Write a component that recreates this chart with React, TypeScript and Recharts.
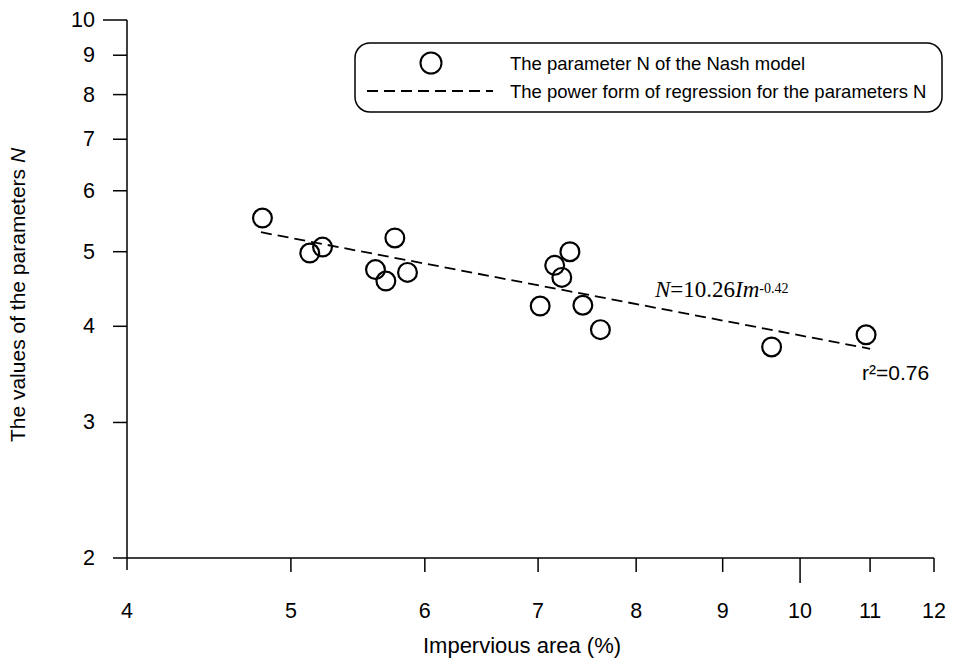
import { ComposedChart, Scatter, Line, XAxis, YAxis, Legend } from 'recharts';

// impervious area (%) and Nash parameter N
const imperviousArea = [4.81, 5.13, 5.22, 5.61, 5.69, 5.76, 5.86, 7.02, 7.16, 7.23, 7.31, 7.44, 7.62, 9.62, 10.94];
const nashN = [5.53, 4.98, 5.07, 4.74, 4.58, 5.21, 4.7, 4.25, 4.8, 4.63, 5.0, 4.26, 3.96, 3.76, 3.9];

// end points of the fitted power line N = 10.26 Im^-0.42
const fitX = [4.8, 11];
const fitN = [5.3, 3.74];

const xTicks = [4, 5, 6, 7, 8, 9, 10, 11, 12];
const yTicks = [2, 3, 4, 5, 6, 7, 8, 9, 10];

const points = imperviousArea.map((x, i) => ({ x, y: nashN[i] }));
const fitLine = fitX.map((x, i) => ({ x, y: fitN[i] }));

const SANS = '"Liberation Sans", Arial, sans-serif';
const SERIF = '"Liberation Serif", "Times New Roman", serif';

const XTick = (props: any) => {
  const { x, y, payload } = props;
  const len = payload.value === 10 ? 25 : payload.value === 4 ? 12 : 14;
  return (
    <g>
      <line x1={x} y1={y} x2={x} y2={y + len} stroke="#000" strokeWidth={1.5} />
      <text x={x} y={y + 60} textAnchor="middle" fontFamily={SANS} fontSize={21.5} fill="#000">
        {payload.value}
      </text>
    </g>
  );
};

const YTick = (props: any) => {
  const { x, y, payload } = props;
  const len = payload.value === 10 ? 24 : 14;
  return (
    <g>
      <line x1={x - len} y1={y} x2={x} y2={y} stroke="#000" strokeWidth={1.5} />
      <text x={x - 32} y={y} textAnchor="end" dominantBaseline="central" fontFamily={SANS} fontSize={21.5} fill="#000">
        {payload.value}
      </text>
    </g>
  );
};

const Ring = (props: any) => {
  const { cx, cy } = props;
  return <circle cx={cx} cy={cy} r={9.4} fill="none" stroke="#000" strokeWidth={2.2} />;
};

const LegendBox = () => (
  <svg width={590} height={72} style={{ display: 'block' }}>
    <rect x={1} y={1} width={587} height={69} rx={15} ry={15} fill="#fff" stroke="#000" strokeWidth={1.5} />
    <circle cx={77} cy={21} r={10.5} fill="none" stroke="#000" strokeWidth={2} />
    <line x1={13} y1={49} x2={139} y2={49} stroke="#000" strokeWidth={1.8} strokeDasharray="11 6" />
    <text x={156} y={21} dominantBaseline="central" fontFamily={SANS} fontSize={18.5} fill="#000">
      The parameter N of the Nash model
    </text>
    <text x={156} y={49} dominantBaseline="central" fontFamily={SANS} fontSize={18.5} fill="#000">
      The power form of regression for the parameters N
    </text>
  </svg>
);

export default function App() {
  return (
    <div style={{ position: 'relative', width: 953, height: 663, background: '#fff' }}>
      <style>{'body{margin:0}'}</style>
      <ComposedChart width={953} height={663} margin={{ top: 20, right: 19, bottom: 0, left: 0 }}>
        <XAxis
          dataKey="x"
          type="number"
          scale="log"
          domain={[4, 12]}
          ticks={xTicks}
          interval={0}
          height={105}
          tickSize={0}
          tickMargin={0}
          tickLine={false}
          tick={<XTick />}
          axisLine={{ stroke: '#000', strokeWidth: 1.5 }}
          allowDataOverflow
        />
        <YAxis
          dataKey="y"
          type="number"
          scale="log"
          domain={[2, 10]}
          ticks={yTicks}
          interval={0}
          width={127}
          tickSize={0}
          tickMargin={0}
          tickLine={false}
          tick={<YTick />}
          axisLine={{ stroke: '#000', strokeWidth: 1.5 }}
          allowDataOverflow
        />
        <Legend
          layout="horizontal"
          align="center"
          verticalAlign="middle"
          wrapperStyle={{ top: 42, left: 354, width: 590 }}
          content={() => <LegendBox />}
        />
        <Line
          data={fitLine}
          dataKey="y"
          type="linear"
          stroke="#000"
          strokeWidth={1.8}
          strokeDasharray="11 6"
          dot={false}
          activeDot={false}
          isAnimationActive={false}
          name="The power form of regression for the parameters N"
        />
        <Scatter
          data={points}
          dataKey="y"
          shape={<Ring />}
          isAnimationActive={false}
          name="The parameter N of the Nash model"
        />
      </ComposedChart>
      <svg width={953} height={663} style={{ position: 'absolute', left: 0, top: 0, pointerEvents: 'none' }}>
        <text
          x={25}
          y={295}
          transform="rotate(-90 25 295)"
          textAnchor="middle"
          fontFamily={SANS}
          fontSize={21}
          fill="#000"
        >
          The values of the parameters <tspan fontStyle="italic">N</tspan>
        </text>
        <text x={522} y={653} textAnchor="middle" fontFamily={SANS} fontSize={22} fill="#000">
          Impervious area (%)
        </text>
        <text x={655} y={297} fontFamily={SERIF} fontSize={23} fill="#000">
          <tspan fontStyle="italic">N</tspan>=10.26<tspan fontStyle="italic">Im</tspan>
          <tspan fontSize={14} dy={-4}>-0.42</tspan>
        </text>
        <text x={862} y={380} fontFamily={SANS} fontSize={21} fill="#000">
          r²=0.76
        </text>
      </svg>
    </div>
  );
}
